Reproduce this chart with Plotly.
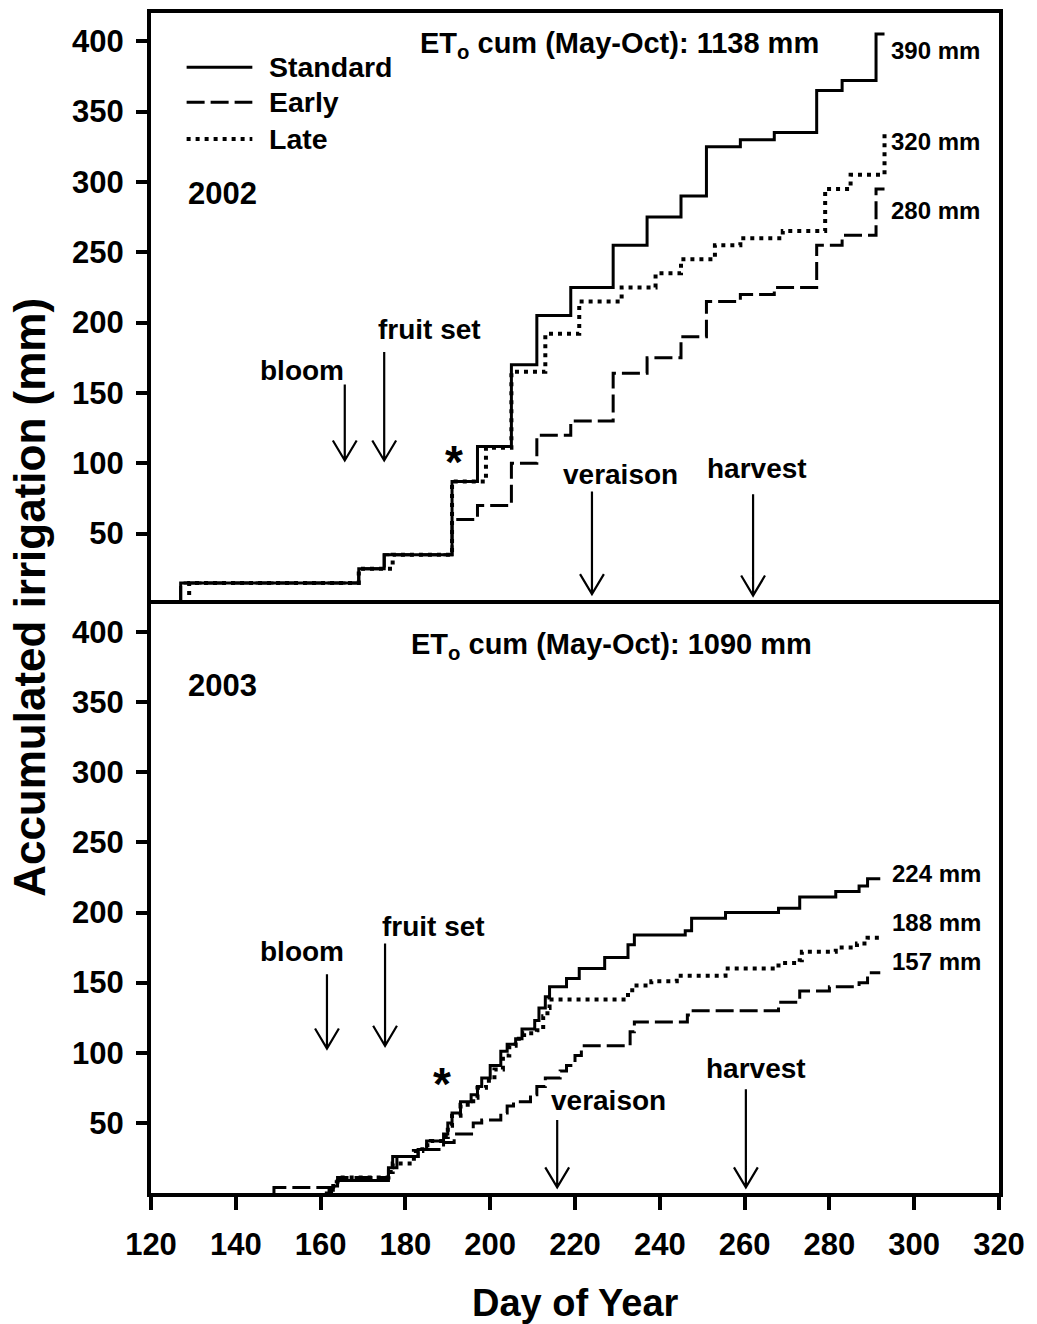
import plotly.graph_objects as go

# ---------------- data ----------------
# 2002 (step points: day, accumulated irrigation after the step)
std02_day = [127, 127, 169, 175, 191, 197, 205, 211, 219, 229, 237, 245, 251, 259, 267, 277, 283, 291, 293]
std02_val = [0, 15, 25, 35, 87, 112, 170, 205, 225, 255, 275, 290, 325, 330, 335, 365, 372, 405, 405]
early02_day = [127, 127, 169, 175, 191, 197, 205, 211, 219, 229, 237, 245, 251, 259, 267, 277, 283, 291, 293]
early02_val = [0, 15, 25, 35, 60, 70, 100, 120, 130, 164, 175, 190, 215, 220, 225, 255, 262, 295, 295]
late02_day = [129, 129, 169, 177, 191, 199, 205, 213, 221, 231, 239, 245, 253, 259, 269, 279, 285, 293]
late02_val = [0, 15, 25, 35, 87, 111, 165, 192, 215, 225, 235, 245, 255, 260, 265, 295, 305, 335]

# 2003
std03_day = [161, 162, 163, 164, 176, 177, 183, 185, 189, 190, 191, 193, 195.5, 197, 198, 200, 202.5, 204,
             206, 207.5, 210.5, 211.5, 213, 214, 218, 221, 227, 232.5, 234, 246, 247.5, 255.5, 268, 273,
             281.5, 287, 289, 292]
std03_val = [0, 2, 5, 9, 18, 26, 31, 37, 42, 50, 57, 65, 70, 76, 82, 91, 101, 106,
             110, 117, 123, 132, 140, 147, 153, 160, 168, 177, 184, 187, 196, 200, 203, 211,
             215, 219, 224, 224]
early03_day = [149, 149, 163, 164, 176, 178, 183, 189, 191.5, 196, 198, 202.5, 204, 205.5, 209.5, 211,
               213, 216.5, 218, 220, 221.5, 233, 234, 246.5, 247.5, 268, 273, 280, 287, 289, 292]
early03_val = [0, 4, 8, 11, 18, 26, 31, 36, 42, 50, 52, 57, 62, 65, 70, 76,
               82, 87, 91, 98, 105, 115, 122, 127, 130, 136, 144, 147, 150, 157, 157]
late03_day = [162, 163, 164, 176, 177, 182, 184, 186, 189, 190, 191, 193, 196, 197, 199, 201, 203, 204.5,
              206, 208, 211, 212.5, 213.5, 214, 232.5, 233.5, 238, 244, 255.5, 268, 273, 273.5, 281.5,
              286.5, 289, 292]
late03_val = [0, 5, 11, 15, 21, 30, 34, 37, 40, 48, 55, 63, 68, 75, 80, 88, 98, 105,
              110, 114, 116, 126, 132, 138, 143, 148, 151, 155, 160, 164, 166, 172, 175,
              178, 182, 183]

x_ticks = [120, 140, 160, 180, 200, 220, 240, 260, 280, 300, 320]
y_ticks = [50, 100, 150, 200, 250, 300, 350, 400]

# phenological events: (label, day, text day, text y, arrow top, arrow tip)
events02 = [("bloom", 165.7, 155.5, 166, 156, 102),
            ("fruit set", 175.0, 185.8, 195, 179, 102),
            ("veraison", 224.0, 230.8, 92, 80, 7),
            ("harvest", 262.0, 263.0, 96, 78, 6)]
events03 = [("bloom", 161.5, 155.5, 172, 156, 103),
            ("fruit set", 175.2, 186.7, 190, 178, 105),
            ("veraison", 215.8, 228.0, 66, 52, 4),
            ("harvest", 260.3, 262.6, 89, 74, 4)]

totals02 = [("390 mm", 393), ("320 mm", 329), ("280 mm", 280)]
totals03 = [("224 mm", 228), ("188 mm", 193), ("157 mm", 165)]

# ---------------- layout geometry ----------------
W, H = 1037, 1324
L, R, T, B = 151, 1005, 13, 1193
MID = 604
XMIN, XMAX, YMAX = 120, 320, 420
split = (B - MID) / (B - T)

FONT = "Liberation Sans, Arial, Helvetica, sans-serif"
px_per_day = (R - L) / (XMAX - XMIN)
px_per_mm_top = (MID - T) / YMAX
px_per_mm_bot = (B - MID) / YMAX

fig = go.Figure()

LW = 3
DOT = dict(color="black", width=4, dash="4px,5px")
DASH = dict(color="black", width=LW, dash="18px,6px")
SOLID = dict(color="black", width=LW)

fig.add_trace(go.Scatter(x=early02_day, y=early02_val, mode="lines", line=DASH, line_shape="hv",
                         name="Early", xaxis="x", yaxis="y", showlegend=False))
fig.add_trace(go.Scatter(x=late02_day, y=late02_val, mode="lines", line=DOT, line_shape="hv",
                         name="Late", xaxis="x", yaxis="y", showlegend=False))
fig.add_trace(go.Scatter(x=std02_day, y=std02_val, mode="lines", line=SOLID, line_shape="hv",
                         name="Standard", xaxis="x", yaxis="y", showlegend=False))

fig.add_trace(go.Scatter(x=early03_day, y=early03_val, mode="lines", line=DASH, line_shape="hv",
                         name="Early", xaxis="x2", yaxis="y2", showlegend=False))
fig.add_trace(go.Scatter(x=late03_day, y=late03_val, mode="lines", line=DOT, line_shape="hv",
                         name="Late", xaxis="x2", yaxis="y2", showlegend=False))
fig.add_trace(go.Scatter(x=std03_day, y=std03_val, mode="lines", line=SOLID, line_shape="hv",
                         name="Standard", xaxis="x2", yaxis="y2", showlegend=False))

axis_common = dict(showline=True, linewidth=4, linecolor="black", showgrid=False, zeroline=False)
tickfont = dict(family=FONT, size=31, color="black", weight="bold")

fig.update_layout(
    width=W, height=H,
    margin=dict(l=L, r=W - R, t=T, b=H - B, pad=0),
    paper_bgcolor="white", plot_bgcolor="white",
    showlegend=False,
    xaxis=dict(domain=[0, 1], anchor="y", range=[XMIN, XMAX], matches="x2", side="top",
               mirror=False, showticklabels=False, ticks="", **axis_common),
    yaxis=dict(domain=[split, 1], anchor="x", range=[0, YMAX], tickvals=y_ticks, mirror=True,
               ticks="outside", ticklen=11, tickwidth=4, tickcolor="black",
               tickfont=tickfont, ticklabelstandoff=6, **axis_common),
    xaxis2=dict(domain=[0, 1], anchor="y2", range=[XMIN, XMAX], tickvals=x_ticks, mirror=True,
                ticks="outside", ticklen=13, tickwidth=4, tickcolor="black",
                tickfont=tickfont, ticklabelstandoff=8, **axis_common),
    yaxis2=dict(domain=[0, split], anchor="x2", range=[0, YMAX], tickvals=y_ticks, mirror=True,
                ticks="outside", ticklen=11, tickwidth=4, tickcolor="black",
                tickfont=tickfont, ticklabelstandoff=6, **axis_common),
)

ann = []
shapes = []


def txt(x, y, text, xref, yref, size, xanchor="center", yanchor="middle", angle=0):
    ann.append(dict(x=x, y=y, xref=xref, yref=yref, text=text, showarrow=False,
                    xanchor=xanchor, yanchor=yanchor, textangle=angle,
                    font=dict(family=FONT, size=size, color="black", weight="bold")))


def arrows(events, yref, px_per_mm):
    hw = 12 / px_per_day
    hl = 20 / px_per_mm
    for label, day, tx, ty, ytop, ytip in events:
        shapes.append(dict(type="path", xref="x", yref=yref,
                           path=f"M {day},{ytop} L {day},{ytip} M {day - hw},{ytip + hl} L {day},{ytip} L {day + hw},{ytip + hl}",
                           line=dict(color="black", width=2.2)))
        txt(tx, ty, label, "x", yref, 28)


arrows(events02, "y", px_per_mm_top)
arrows(events03, "y2", px_per_mm_bot)

# asterisks
txt(191.5, 101, "*", "x", "y", 46)
txt(188.6, 78, "*", "x", "y2", 46)

# year labels
txt(128.2, 292, "2002", "x", "y", 31, xanchor="left")
txt(128.2, 362, "2003", "x", "y2", 31, xanchor="left")

# ETo totals
txt(230.5, 397, "ET<sub>o</sub> cum (May-Oct): 1138 mm", "x", "y", 29)
txt(228.7, 390, "ET<sub>o</sub> cum (May-Oct): 1090 mm", "x", "y2", 29)

# end totals
for t, yv in totals02:
    txt(294.0, yv, t, "x", "y", 24, xanchor="left")
for t, yv in totals03:
    txt(294.2, yv, t, "x", "y2", 24, xanchor="left")

# legend (drawn)
leg = [("Standard", 381.5, SOLID), ("Early", 356.5, DASH), ("Late", 330.5, DOT)]
for name, yv, style in leg:
    shapes.append(dict(type="line", xref="x", yref="y", x0=128.4, x1=143.9, y0=yv, y1=yv,
                       line=dict(color="black", width=style["width"], dash=style.get("dash", "solid"))))
    txt(147.4, yv, name, "x", "y", 28.5, xanchor="left")

# axis titles
txt(-123 / (R - L), (B - 597) / (B - T), "Accumulated irrigation (mm)", "paper", "paper", 44, angle=-90)
txt((578 - L) / (R - L), -(1303 - B) / (B - T), "Day of Year", "paper", "paper", 38)

fig.update_layout(annotations=ann, shapes=shapes)

fig.write_html("out.html")
